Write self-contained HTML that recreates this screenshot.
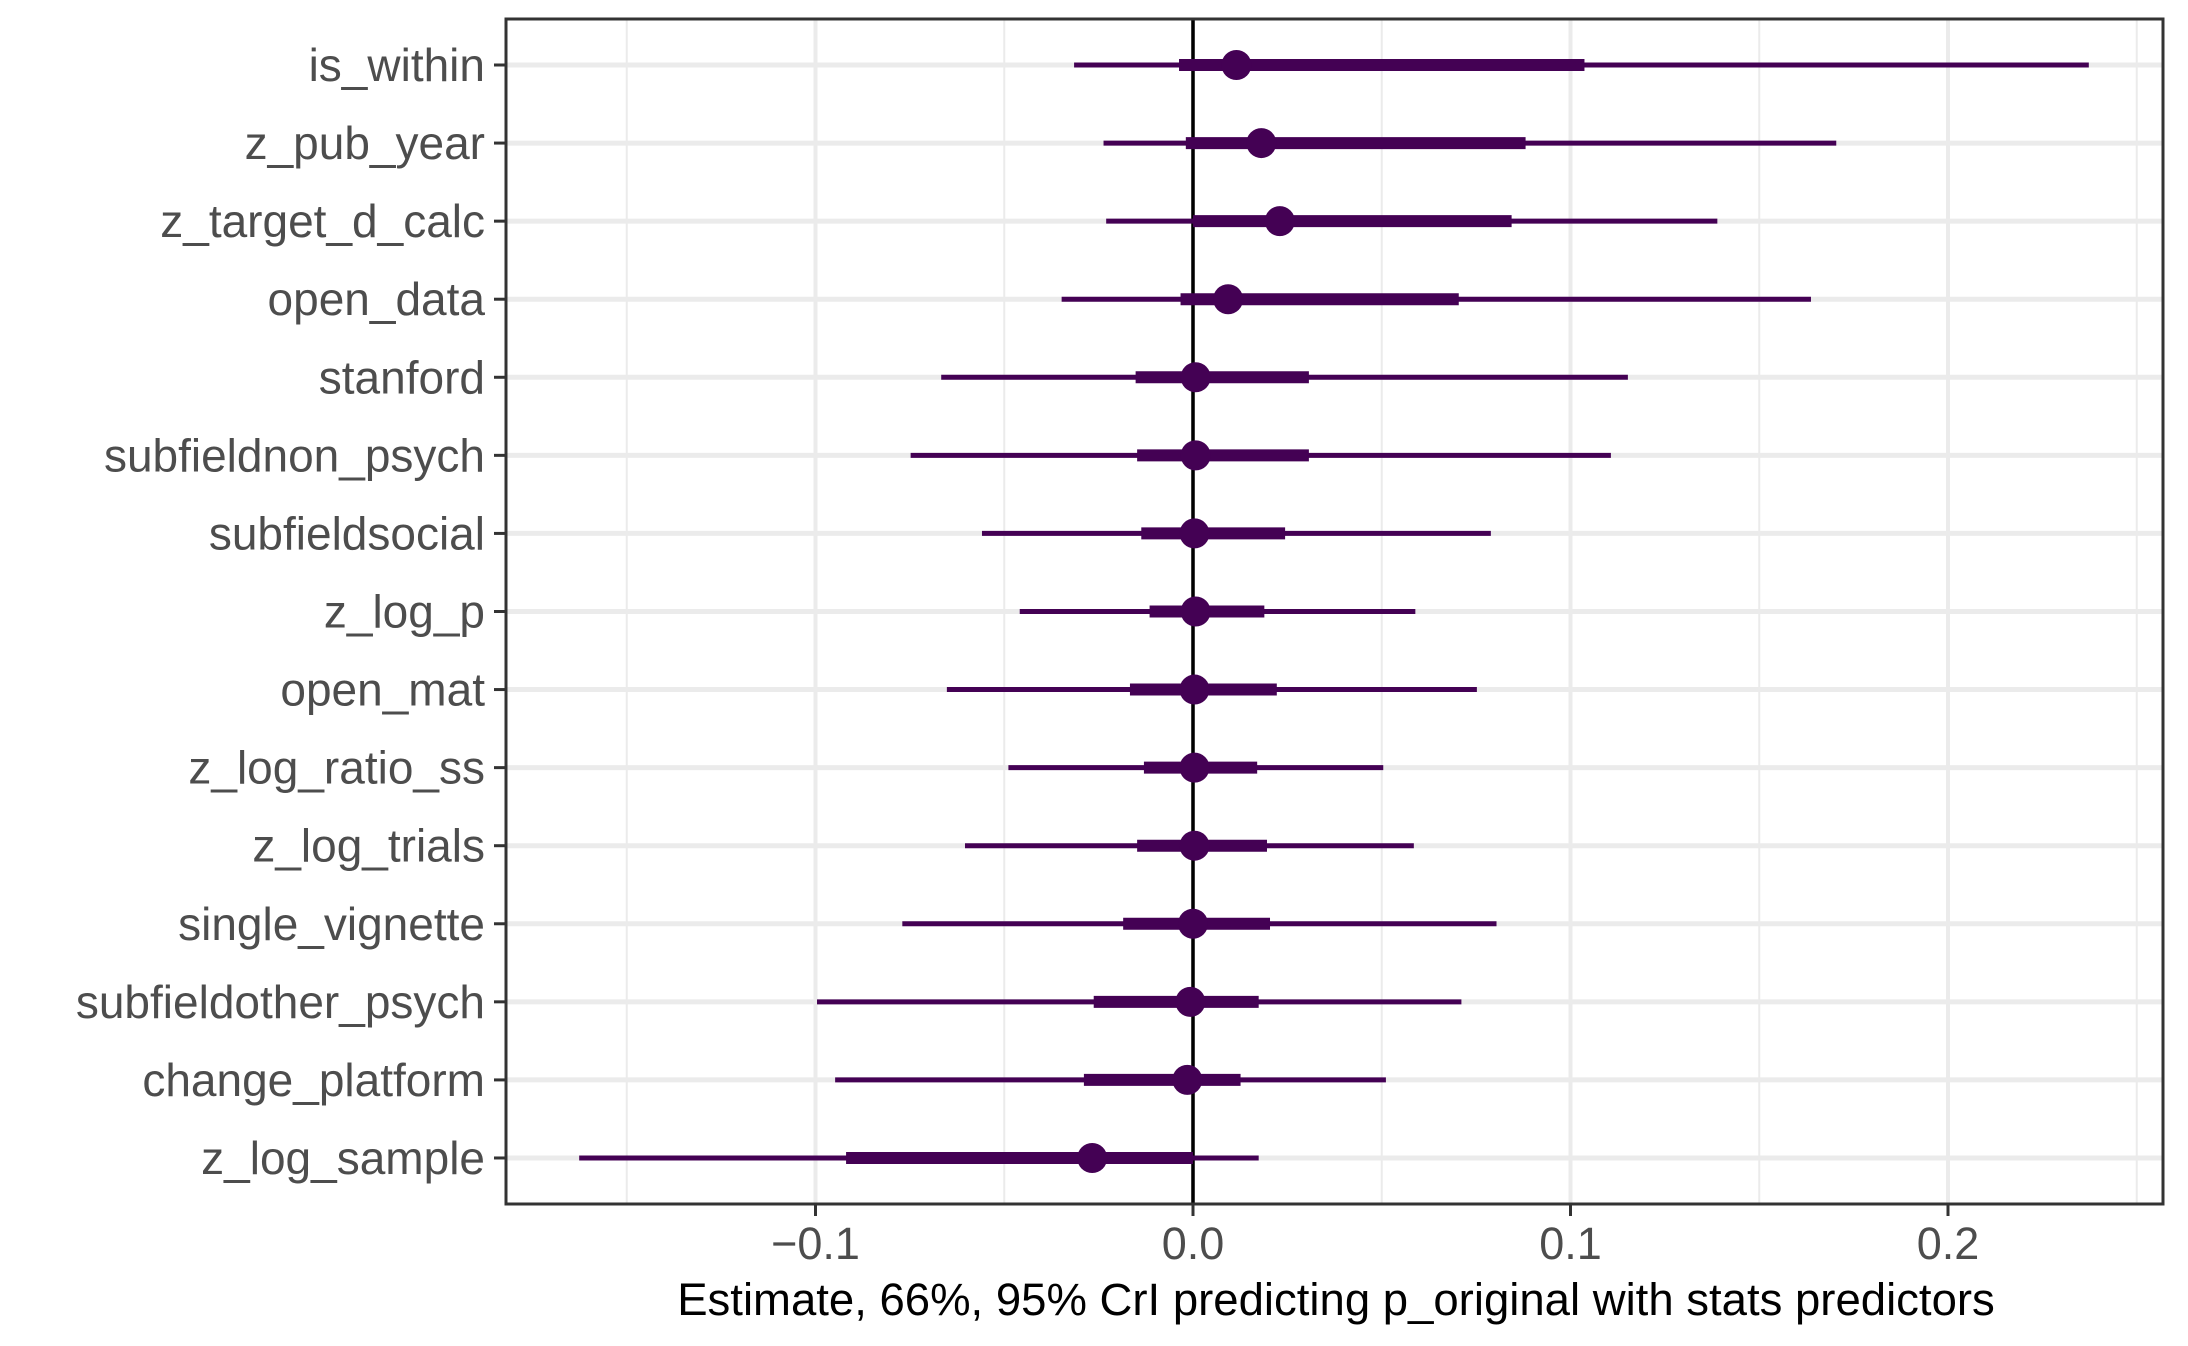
<!DOCTYPE html>
<html><head><meta charset="utf-8"><style>
html,body{margin:0;padding:0;background:#fff;}
svg{display:block;font-family:"Liberation Sans",sans-serif;}
</style></head><body>
<svg id="chart" width="2188" height="1346"></svg>
<script>
const categories=["is_within","z_pub_year","z_target_d_calc","open_data","stanford","subfieldnon_psych","subfieldsocial","z_log_p","open_mat","z_log_ratio_ss","z_log_trials","single_vignette","subfieldother_psych","change_platform","z_log_sample"];
const estimates=[0.0115,0.0181,0.023,0.0093,0.0007,0.0007,0.0004,0.0007,0.0004,0.0004,0.0004,0.0,-0.0007,-0.0015,-0.0267];
const lo95=[-0.0315,-0.0237,-0.023,-0.0348,-0.0667,-0.0748,-0.0559,-0.0459,-0.0652,-0.0489,-0.0604,-0.077,-0.0996,-0.0948,-0.1626];
const hi95=[0.2373,0.1704,0.1389,0.1637,0.1152,0.1107,0.0789,0.0589,0.0752,0.0504,0.0585,0.0804,0.0711,0.0511,0.0174];
const lo66=[-0.0037,-0.0019,0.0,-0.0033,-0.0152,-0.0148,-0.0137,-0.0115,-0.0167,-0.013,-0.0148,-0.0185,-0.0263,-0.0289,-0.0919];
const hi66=[0.1037,0.0881,0.0844,0.0704,0.0307,0.0307,0.0244,0.0189,0.0222,0.017,0.0196,0.0204,0.0174,0.0126,0.0];
const majorTicks=[-0.1,0,0.1,0.2];
const tickLabels=["\u22120.1","0.0","0.1","0.2"];
const minorTicks=[-0.15,-0.05,0.05,0.15,0.25];

const svg=document.getElementById('chart');
const NS='http://www.w3.org/2000/svg';
const L=506,R=2163,T=19,B=1204;
const x=v=>1193+v*3775;
const y=i=>65+i*78.07;
function mk(tag,attrs){const e=document.createElementNS(NS,tag);for(const k in attrs)e.setAttribute(k,attrs[k]);svg.appendChild(e);return e;}
const purple='#440154';
minorTicks.forEach(v=>{const e=mk('line',{x1:x(v),x2:x(v),y1:T,y2:B,stroke:'#ebebeb','stroke-width':2});

});
majorTicks.forEach(v=>{const e=mk('line',{x1:x(v),x2:x(v),y1:T,y2:B,stroke:'#ebebeb','stroke-width':4});

});
categories.forEach((c,i)=>{const e=mk('line',{x1:L,x2:R,y1:y(i),y2:y(i),stroke:'#ebebeb','stroke-width':5});

});
const z=mk('line',{x1:x(0),x2:x(0),y1:T,y2:B,stroke:'#000','stroke-width':3.5});


categories.forEach((c,i)=>{
 const a=mk('line',{x1:x(lo95[i]),x2:x(hi95[i]),y1:y(i),y2:y(i),stroke:purple,'stroke-width':5});
 
 
 const b=mk('line',{x1:x(lo66[i]),x2:x(hi66[i]),y1:y(i),y2:y(i),stroke:purple,'stroke-width':12});
 
 
 const p=mk('circle',{cx:x(estimates[i]),cy:y(i),r:15,fill:purple});
 
 
 const t=mk('line',{x1:494,x2:L,y1:y(i),y2:y(i),stroke:'#333','stroke-width':3});
 
 
 const l=mk('text',{x:485,y:y(i)+16,'text-anchor':'end','font-size':46,fill:'#4d4d4d'});
 l.textContent=c;
 
 
});
majorTicks.forEach((v,i)=>{
 const t=mk('line',{x1:x(v),x2:x(v),y1:B,y2:B+12,stroke:'#333','stroke-width':3});
 
 
 const l=mk('text',{x:x(v),y:1259,'text-anchor':'middle','font-size':45,fill:'#4d4d4d'});
 l.textContent=tickLabels[i];
 
 
});
const fr=mk('rect',{x:L,y:T,width:R-L,height:B-T,fill:'none',stroke:'#333','stroke-width':3});


const ti=mk('text',{x:1336,y:1315,'text-anchor':'middle','font-size':45.5,fill:'#000'});
ti.textContent='Estimate, 66%, 95% CrI predicting p_original with stats predictors';


</script>
</body></html>
